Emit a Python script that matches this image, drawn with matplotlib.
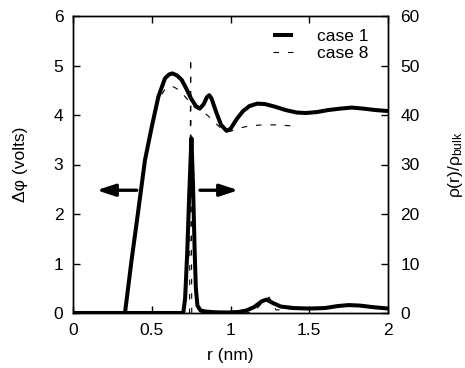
import matplotlib
matplotlib.use("Agg")
import matplotlib.pyplot as plt
from matplotlib.lines import Line2D

plt.rcParams['font.family'] = ['Liberation Sans', 'DejaVu Sans']
plt.rcParams['mathtext.fontset'] = 'custom'
plt.rcParams['mathtext.rm'] = 'Liberation Sans'
plt.rcParams['mathtext.it'] = 'Liberation Sans'
FS = 12.5

# ---- data ----
r_pot1 = [0.0, 0.33, 0.372, 0.415, 0.457, 0.50, 0.542, 0.584, 0.61, 0.631, 0.66, 0.69,
          0.72, 0.75, 0.78, 0.805, 0.83, 0.85, 0.865, 0.88, 0.91, 0.94, 0.975, 1.00, 1.04,
          1.08, 1.12, 1.17, 1.22, 1.28, 1.35, 1.42, 1.48, 1.55, 1.62, 1.70, 1.77, 1.84,
          1.92, 2.00]
pot1 = [0.0, 0.0, 1.07, 2.08, 3.09, 3.76, 4.37, 4.74, 4.82, 4.84, 4.8, 4.71,
        4.53, 4.33, 4.18, 4.13, 4.22, 4.36, 4.40, 4.33, 4.05, 3.8, 3.68, 3.72, 3.92,
        4.08, 4.18, 4.23, 4.22, 4.17, 4.10, 4.05, 4.04, 4.06, 4.10, 4.13, 4.15, 4.13,
        4.10, 4.08]

r_pot8 = [0.0, 0.33, 0.372, 0.415, 0.457, 0.50, 0.542, 0.584, 0.61, 0.637, 0.66, 0.69,
          0.72, 0.75, 0.78, 0.805, 0.84, 0.88, 0.91, 0.94, 0.975, 1.00, 1.05, 1.12, 1.20,
          1.30, 1.43]
pot8 = [0.0, 0.0, 1.07, 2.08, 3.09, 3.76, 4.3, 4.52, 4.57, 4.57, 4.53, 4.45,
        4.34, 4.22, 4.14, 4.1, 4.03, 3.92, 3.82, 3.73, 3.66, 3.67, 3.73, 3.78, 3.80,
        3.80, 3.77]

r_rho1 = [0.0, 0.70, 0.712, 0.725, 0.738, 0.752, 0.762, 0.772, 0.78, 0.79, 0.81, 0.84,
          0.90, 0.98, 1.05, 1.10, 1.15, 1.20, 1.23, 1.27, 1.32, 1.40, 1.50, 1.60, 1.68,
          1.75, 1.82, 1.90, 2.00]
rho1 = [0.0, 0.0, 3.0, 12.0, 24.0, 35.3, 26.0, 13.0, 5.0, 1.5, 0.5, 0.3,
        0.15, 0.1, 0.2, 0.5, 1.2, 2.4, 2.7, 2.0, 1.3, 1.0, 0.9, 1.0, 1.4,
        1.6, 1.5, 1.2, 0.9]

r_rho8 = [0.0, 0.74, 0.747, 0.754, 1.10, 1.15, 1.20, 1.245, 1.29, 1.35, 1.43]
rho8 = [0.0, 0.0, 51.5, 0.0, 0.0, 0.3, 2.0, 3.2, 0.6, 0.8, 0.9]

labels = ["case 1", "case 8"]
x_ticks = [0, 0.5, 1, 1.5, 2]
x_ticklabels = ["0", "0.5", "1", "1.5", "2"]
yl_ticks = [0, 1, 2, 3, 4, 5, 6]
yr_ticks = [0, 10, 20, 30, 40, 50, 60]

W, H = 465, 368
fig = plt.figure(figsize=(W / 100, H / 100), dpi=100)
ax = fig.add_axes([73 / W, 55 / H, 315 / W, 297 / H])
ax2 = ax.twinx()

thick = dict(color='black', lw=2.9, solid_joinstyle='round', solid_capstyle='butt')
thin = dict(color='black', lw=0.8, dashes=(5, 8))

ax.plot(r_pot1, pot1, **thick)
ax.plot(r_pot8, pot8, **thin)
ax2.plot(r_rho1, rho1, **thick)
ax2.plot(r_rho8, rho8, **thin)

ax.set_xlim(0, 2)
ax.set_ylim(0, 6)
ax2.set_ylim(0, 60)
ax.set_xticks(x_ticks)
ax.set_xticklabels(x_ticklabels)
ax.set_yticks(yl_ticks)
ax2.set_yticks(yr_ticks)

for a in (ax, ax2):
    for s in a.spines.values():
        s.set_linewidth(1.0)
ax.tick_params(axis='x', direction='in', top=True, bottom=True, length=5, width=1,
               labelsize=FS, pad=7)
ax.tick_params(axis='y', direction='in', left=True, right=False, length=5, width=1,
               labelsize=FS, pad=7)
ax2.tick_params(axis='y', direction='in', right=True, length=5, width=1,
                labelsize=FS, pad=9)

ax.set_xlabel("r (nm)", fontsize=FS)
ax.xaxis.set_label_coords(0.498, -0.118)
ax.set_ylabel("\u0394\u03c6 (volts)", fontsize=FS)
ax.yaxis.set_label_coords(-0.143, 0.5)
ax2.set_ylabel("\u03c1(r)/\u03c1$_{\\mathrm{bulk}}$", fontsize=FS)
ax2.yaxis.set_label_coords(1.183, 0.5)

ap = dict(arrowstyle='-|>,head_length=1.1,head_width=0.36', lw=2.4, color='black',
          shrinkA=0, shrinkB=0, mutation_scale=10)
ax.annotate('', xy=(0.15, 2.48), xytext=(0.405, 2.48), arrowprops=ap)
ax.annotate('', xy=(1.05, 2.48), xytext=(0.806, 2.48), arrowprops=ap)

handles = [Line2D([], [], **thick), Line2D([], [], **thin)]
ax.legend(handles, labels, loc='upper left', bbox_to_anchor=(0.635, 0.956),
          frameon=False, fontsize=FS, handlelength=1.15, handletextpad=1.4,
          labelspacing=0.1, borderpad=0, borderaxespad=0)

fig.savefig("out.png", dpi=100)
